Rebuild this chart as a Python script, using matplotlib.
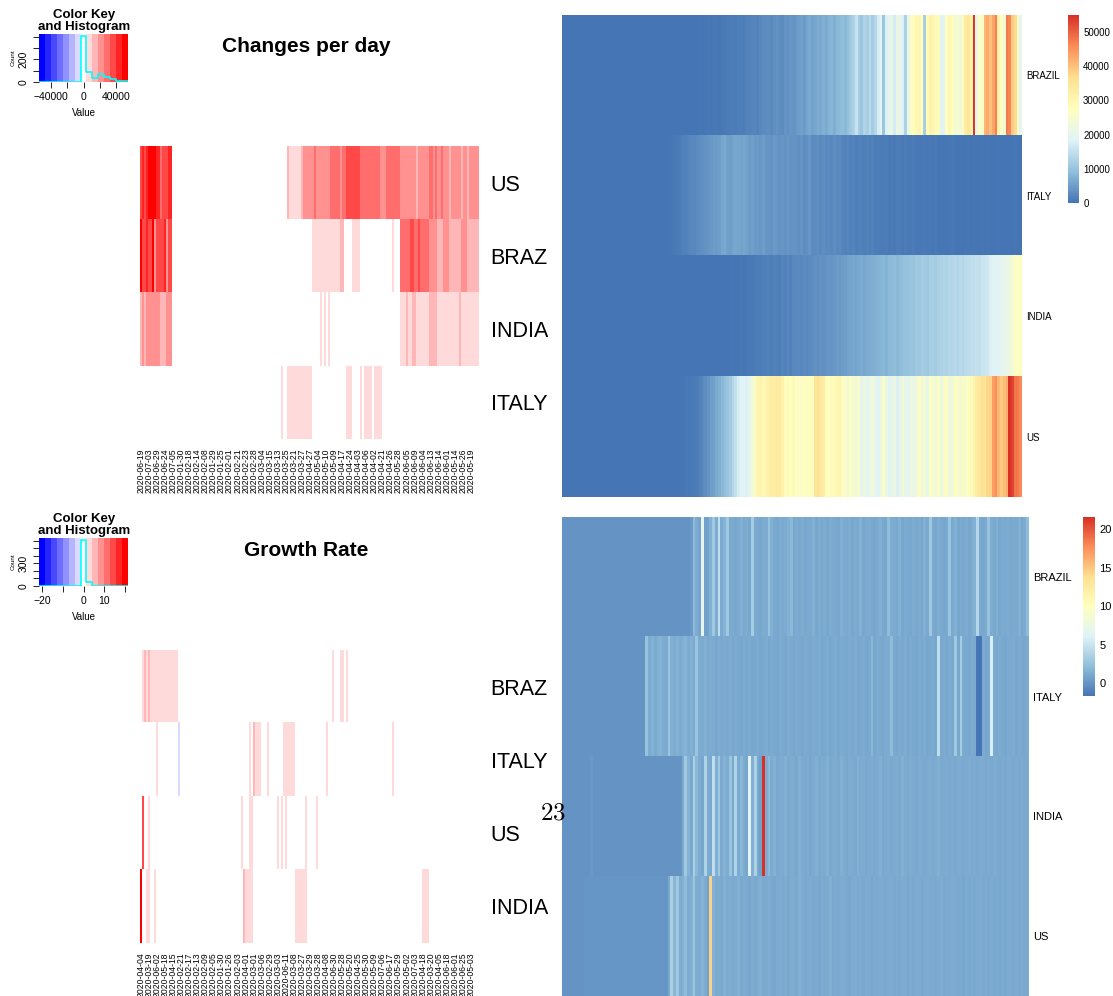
import numpy as np
import matplotlib
matplotlib.use('Agg')
import matplotlib.pyplot as plt
from matplotlib.colors import ListedColormap, BoundaryNorm, LinearSegmentedColormap

plt.rcParams['font.family'] = ['Liberation Sans', 'DejaVu Sans']
plt.rcParams['mathtext.fontset'] = 'cm'

W, H = 1113, 996
N_DAYS = 168  # 2020-01-22 .. 2020-07-07

# ---------------- right panels (pheatmap), daily values in date order ----------------
right_rows = ['BRAZIL', 'ITALY', 'INDIA', 'US']

# new cases per day, thousands
brazil_changes_k = [0] * 33 + [
    0, 0, 0, 0, 0, 0, 0, 0, 0, 0.01, 0.02, 0.03, 0.05,
    0.1, 0.2, 0.1, 0.2, 0.3, 0.2, 0.4, 0.5, 0.3, 0.5, 0.6, 0.4, 0.5, 0.8,
    1.0, 1.1, 1.2, 0.9, 1.3, 1.5, 1.2, 1.8, 1.9,
    2.0, 2.2, 1.8, 2.5, 3.0, 2.8, 3.1, 2.6, 3.4, 3.8, 3.3, 2.9, 4.0, 3.6, 4.2, 3.9,
    4.5, 5.0, 5.5, 4.8, 6.0, 6.5, 5.8, 6.2, 7.0, 6.6, 7.5, 6.8, 7.8, 8.0, 7.2, 8.5, 8.8, 9.2, 8.4, 9.6,
    11.0, 12.5, 15.5, 11.8, 10.5, 13.0, 12.0, 14.0, 11.5, 13.5,
    17.5, 19.0, 10.5, 18.0, 20.0, 21.0, 17.0, 22.0, 19.5, 18.0, 12.5, 21.5,
    26.5, 28.0, 29.5, 30.0, 27.5, 12.0, 29.0, 31.0, 30.5, 28.5,
    29.0, 19.0, 18.5, 27.0, 30.0, 28.0, 24.0, 24.5, 23.0, 28.0, 33.0, 34.5, 32.0,
    54.0, 21.0, 27.0, 25.0, 41.0, 42.5, 40.0, 43.0, 47.0,
    31.0, 27.0, 24.0, 47.5, 46.5, 39.0, 37.0, 25.0, 20.0]
italy_changes_k = [0] * 38 + [
    0.2, 0.4, 0.6, 0.8, 1.0, 1.2, 1.6, 1.9, 2.2, 2.5, 2.4, 3.0, 3.3, 3.5, 3.8,
    4.2, 4.6, 5.0, 4.8, 5.2, 6.2, 6.5, 5.5, 5.0, 6.0, 6.3, 5.9, 5.6, 6.1, 5.8,
    4.8, 5.2, 4.6, 4.9, 4.3, 5.1,
    4.5, 4.2, 3.9, 4.6, 4.3, 4.0, 4.1, 3.8, 4.4, 3.7, 4.0,
    3.9, 3.5, 4.0, 3.2, 3.6, 4.2,
    3.0, 2.8, 3.3, 2.6, 3.1, 2.7, 2.9, 2.5, 3.2, 2.4, 2.8,
    2.0, 1.8, 2.2, 1.6, 2.0, 1.5, 1.9, 1.7, 1.4, 1.8, 1.3, 1.6, 1.2,
    1.1, 0.9, 1.0, 1.2, 0.8, 1.0, 0.7, 1.1, 0.9, 0.6, 1.0, 0.8, 0.7, 0.9, 0.6,
    0.5, 0.8, 0.7, 0.5, 0.6, 0.4, 0.7,
    0.3, 0.4, 0.3, 0.2, 0.3, 0.5, 0.3, 0.2, 0.3, 0.2, 0.4, 0.3, 0.2, 0.3, 0.2,
    0.2, 0.3, 0.2, 0.3, 0.2, 0.1, 0.2, 0.3, 0.2, 0.2, 0.1, 0.2, 0.2, 0.3, 0.2, 0.2]
india_changes_k = [0] * 56 + [
    0.05, 0.1, 0.05, 0.1, 0.2, 0.1, 0.3, 0.2, 0.4, 0.5, 0.4, 0.6, 0.7, 0.8,
    1.0, 1.2, 1.1, 1.5, 1.3, 1.6, 1.4, 1.8, 1.7, 1.5, 2.0, 1.9, 2.2, 1.8, 2.4,
    2.5, 2.7, 2.4, 2.8, 2.6,
    3.0, 3.2, 3.5, 3.3, 3.8, 3.6, 4.0, 4.2, 3.9, 4.5, 4.8, 4.6, 5.0, 5.3,
    5.8, 6.0, 6.3, 5.9, 6.5, 6.8, 6.4, 7.0, 6.9, 7.2, 7.4,
    7.8, 8.0, 8.4, 7.9, 8.6, 8.8, 9.0, 8.5, 9.2, 9.5, 9.8,
    10.0, 10.5, 10.2, 11.0, 10.8, 11.5, 11.2, 10.9, 11.8, 12.0, 11.6, 12.3, 12.5,
    13.0, 12.8, 13.4, 13.2, 13.6, 13.1, 13.8, 13.5, 14.0,
    14.2, 14.8, 14.5, 15.2, 15.0, 15.8, 16.0, 16.5,
    18.0, 18.5, 19.0, 18.8, 19.8, 20.5, 21.0, 22.0,
    24.5, 26.0, 27.0, 28.0]
us_changes_k = [0] * 37 + [
    0.01, 0.02, 0.03, 0.05, 0.1, 0.2, 0.3, 0.4, 0.5, 0.6, 0.8, 1.0,
    1.2, 1.8, 2.5, 3.2, 4.0, 5.0, 5.5, 6.5, 7.5, 8.5, 9.5, 10.5, 11.5, 13.5, 15.0,
    17.5, 18.5, 19.0, 18.0, 19.5, 24.5, 25.5, 30.0, 31.0, 29.5, 30.5,
    32.0, 33.0, 32.5, 34.0, 33.5, 31.5, 28.0, 28.5, 27.5, 29.0, 27.0, 26.5,
    26.0, 27.5, 26.5, 28.0, 27.0, 35.0, 36.0, 34.0, 33.0,
    28.0, 27.0, 29.0, 28.5, 30.0, 31.0, 27.0, 25.5, 24.0, 26.5, 25.0, 23.5, 26.0,
    20.0, 22.0, 19.5, 21.0, 23.0, 20.5, 18.5, 22.5, 26.0, 21.5,
    19.0, 20.0, 22.0, 18.0, 21.0, 23.5, 20.5, 19.5, 22.5, 21.0,
    24.0, 26.0, 22.5, 25.0, 20.0, 27.0, 24.5, 23.0, 26.5, 21.5, 25.5,
    28.0, 22.0, 24.0, 27.5, 26.0, 23.5, 28.5, 25.0, 27.0, 29.0, 30.0,
    33.0, 34.5, 36.0, 35.0, 37.5, 38.0, 44.0, 45.5, 41.0, 39.0, 40.5, 42.0,
    55.0, 53.0, 48.0, 47.5, 46.0]

# growth rate (today / yesterday), 0 before the outbreak
brazil_growth = [0] * 46 + [
    0.3, 2.1, 1.2, 0.8, 7.0, 0.6, 0.7, 1.5, 3.0, 1.3,
    4.5, 1.2, 1.6, 3.0, 1.1, 1.3, 1.0, 1.2, 1.4, 1.1,
    1.3, 1.0, 3.3, 1.2, 1.1, 1.0, 1.3, 1.2, 2.5, 1.5,
    1.1, 1.0, 1.3, 1.1, 1.2, 1.4, 1.9, 1.0, 1.2, 1.1,
    1.3, 1.0, 1.2, 1.1, 1.4, 1.0, 1.3, 1.1, 1.2, 1.0,
    1.3, 1.2, 1.1, 1.0, 1.4, 1.2, 1.1, 1.3, 1.0, 1.2,
    1.1, 1.5, 1.0, 1.2, 1.3, 1.1, 1.0, 1.2, 1.4, 1.1,
    1.0, 2.2, 1.3, 1.2, 1.1, 1.5, 1.0, 1.2, 1.1, 1.0,
    1.3, 1.1, 1.2, 1.0, 1.4, 1.1, 3.0, 1.2, 1.0, 1.3,
    1.1, 1.0, 1.2, 2.7, 1.1, 1.4, 1.0, 1.2, 1.1, 1.3,
    1.0, 1.2, 1.5, 4.0, 1.1, 1.0, 1.2, 2.5, 1.3, 1.1,
    1.4, 1.0, 1.2, 1.1, 1.3, 1.0, 1.2, 1.1, 1.4, 1.0,
    1.2, 2.1]
italy_growth = [0] * 30 + [
    2.5, 1.3, 1.5, 1.2, 1.4, 1.6, 1.3, 1.2, 2.7, 1.4,
    1.3, 1.5, 1.2, 1.4, 1.6, 1.3, 1.5, 1.2, 2.7, 1.3,
    1.2, 1.4, 1.1, 1.3, 1.2, 1.0, 1.3, 1.1, 1.2, 1.1,
    1.3, 1.0, 1.2, 1.1, 1.0, 1.2, 1.1, 1.3, 1.0, 1.1,
    1.2, 1.0, 1.1, 1.3, 1.0, 1.2, 1.1, 1.0, 1.2, 1.1,
    1.0, 1.3, 1.1, 1.0, 1.2, 1.1, 1.0, 1.2, 1.1, 1.0,
    1.2, 1.1, 1.3, 1.0, 1.1, 1.2, 1.0, 1.1, 1.3, 1.0,
    1.2, 1.1, 1.0, 1.2, 1.1, 1.3, 1.0, 1.1, 1.2, 1.0,
    1.1, 1.9, 1.0, 1.2, 1.1, 1.0, 1.2, 1.3, 2.1, 1.1,
    1.0, 1.2, 1.1, 1.3, 1.0, 1.2, 1.1, 1.0, 1.2, 1.1,
    1.3, 1.0, 1.1, 1.2, 1.0, 4.5, 1.1, 1.2, 1.0, 1.3,
    1.1, 3.0, 1.0, 3.3, 1.2, 1.1, 1.0, 1.3, 1.1, -1.6,
    -1.7, 1.2, 1.0, 1.1, 5.8, 1.2, 1.0, 1.3, 1.1, 1.0,
    1.2, 1.1, 1.3, 1.0, 1.2, 1.1, 1.0, 1.2]
india_growth = [0] * 10 + [0.3] + [0] * 32 + [
    1.2, 3.0, 1.6, 1.1, 3.5, 1.9, 1.2, 1.0, 3.7, 1.3,
    1.1, 4.5, 1.4, 3.0, 1.2, 1.6, 1.3, 2.6, 1.1, 3.8,
    1.2, 1.9, 1.3, 1.0, 6.5, 1.4, 3.6, 1.1, 0.6, 21.6,
    1.3, 2.0, 1.2, 1.5, 1.1, 1.3, 1.2, 1.4, 1.1, 1.3,
    1.2, 1.0, 1.4, 1.2, 1.1, 1.3, 1.0, 1.2, 1.4, 1.1,
    1.3, 1.2, 1.5, 1.1, 1.2, 1.3, 1.1, 1.4, 1.2, 1.0,
    1.3, 1.2, 1.1, 1.4, 1.2, 1.3, 1.1, 1.2, 1.3, 1.1,
    1.2, 1.4, 1.0, 1.2, 1.3, 1.1, 1.2, 1.3, 1.1, 1.4,
    1.2, 1.1, 1.3, 1.2, 1.1, 1.3, 1.2, 1.1, 1.2, 1.3,
    1.1, 1.2, 1.4, 1.1, 1.2, 1.3, 1.1, 1.2, 1.1, 1.3,
    1.2, 1.1, 1.2, 1.3, 1.1, 1.2, 1.1, 1.3, 1.2, 1.1,
    1.2, 1.1, 1.3, 1.2, 1.1, 1.2, 1.1, 1.3, 1.2, 1.1,
    1.2, 1.1, 1.2, 1.1, 1.2]
us_growth = [0] * 8 + [0.1] * 30 + [
    1.1, 3.5, 1.8, 3.0, 1.3, 1.5, 2.2, 1.2, 1.4, 2.8,
    1.3, 1.2, 1.6, 1.3, 0.6, 14.5, 1.4, 1.2, 1.3, 1.1,
    1.4, 1.2, 1.3, 1.1, 1.2, 1.4, 1.1, 1.3, 1.2, 1.0,
    1.3, 1.1, 1.2, 1.4, 1.1, 1.2, 1.3, 1.1, 1.0, 1.2,
    1.3, 1.1, 1.2, 1.0, 1.3, 1.2, 1.1, 1.4, 1.2, 1.1,
    1.2, 1.3, 1.1, 1.2, 1.0, 1.3, 1.1, 1.2, 1.4, 1.1,
    1.2, 1.1, 1.3, 1.2, 1.1, 1.0, 1.2, 1.3, 1.1, 1.2,
    1.1, 1.3, 1.2, 1.0, 1.2, 1.1, 1.3, 1.2, 1.1, 1.2,
    1.3, 1.1, 1.2, 1.1, 1.3, 1.2, 1.0, 1.2, 1.1, 1.3,
    1.2, 1.1, 1.2, 1.3, 1.1, 1.2, 1.1, 1.2, 1.3, 1.1,
    1.2, 1.1, 1.3, 1.2, 1.1, 1.2, 1.0, 1.2, 1.1, 1.2,
    1.1, 1.2, 1.3, 1.1, 1.2, 1.1, 1.2, 1.1, 1.2, 1.1,
    1.2, 1.1, 1.3, 1.2, 1.1, 1.2, 1.1, 1.2, 1.1, 1.2]

# ---------------- left panels (heatmap.2, clustered columns) ----------------
# colour-key bin per column, as (bin, number of columns); bins 0..14, 7 = white
top_left_rows = ['US', 'BRAZIL', 'INDIA', 'ITALY']
us_change_bins = [(12, 1), (13, 1), (12, 1), (13, 1), (14, 4), (13, 2), (11, 1), (12, 3), (13, 2),
                  (7, 57), (9, 1), (8, 6), (9, 1), (10, 5), (11, 1), (10, 7), (11, 5), (10, 1),
                  (11, 2), (12, 7), (11, 10), (10, 3), (11, 7), (10, 8), (9, 1), (10, 5), (11, 2),
                  (10, 1), (11, 1), (10, 2), (11, 1), (10, 3), (9, 1), (10, 5), (9, 1), (10, 2),
                  (9, 1), (10, 5)]
brazil_change_bins = [(14, 1), (12, 2), (13, 1), (12, 2), (14, 1), (10, 1), (12, 4), (13, 1), (10, 1),
                      (12, 2), (7, 69), (8, 14), (9, 2), (7, 4), (8, 4), (7, 16), (8, 1), (7, 3),
                      (11, 5), (12, 2), (11, 2), (12, 1), (11, 4), (10, 4), (9, 3), (10, 3), (9, 6),
                      (10, 3), (9, 6)]
india_change_bins = [(9, 1), (10, 1), (9, 1), (10, 7), (9, 3), (10, 3), (7, 73), (8, 1), (7, 1),
                     (8, 1), (7, 1), (8, 1), (7, 35), (8, 3), (9, 1), (8, 2), (9, 2), (8, 6),
                     (9, 4), (8, 11), (9, 1), (8, 9)]
italy_change_bins = [(7, 70), (8, 1), (7, 2), (8, 12), (7, 17), (8, 3), (7, 4), (8, 1), (7, 1),
                     (8, 4), (7, 1), (8, 4), (7, 48)]
top_left_dates = ['2020-06-19', '2020-07-03', '2020-06-29', '2020-06-24', '2020-07-05', '2020-01-30',
                  '2020-02-18', '2020-02-14', '2020-02-08', '2020-01-29', '2020-01-25', '2020-02-01',
                  '2020-02-21', '2020-02-23', '2020-02-28', '2020-03-04', '2020-03-15', '2020-03-13',
                  '2020-03-25', '2020-03-21', '2020-03-27', '2020-04-27', '2020-05-04', '2020-05-10',
                  '2020-05-09', '2020-04-17', '2020-04-24', '2020-04-03', '2020-04-06', '2020-04-02',
                  '2020-04-21', '2020-04-26', '2020-05-28', '2020-06-05', '2020-06-09', '2020-06-04',
                  '2020-06-13', '2020-06-14', '2020-06-01', '2020-05-14', '2020-05-26', '2020-05-19']

bottom_left_rows = ['BRAZIL', 'ITALY', 'US', 'INDIA']
brazil_growth_bins = [(7, 1), (8, 1), (9, 1), (8, 1), (9, 1), (8, 14), (7, 76), (8, 1), (7, 3),
                      (8, 2), (7, 1), (8, 1), (7, 65)]
italy_growth_bins = [(7, 8), (8, 1), (7, 10), (6, 1), (7, 34), (8, 1), (7, 1), (9, 1), (8, 3), (7, 3),
                     (8, 1), (7, 7), (8, 6), (7, 15), (8, 1), (7, 32), (8, 1), (7, 42)]
us_growth_bins = [(7, 1), (12, 1), (7, 2), (8, 1), (7, 45), (8, 1), (7, 3), (8, 2), (7, 12), (8, 1),
                  (7, 1), (8, 1), (7, 1), (8, 1), (7, 9), (8, 1), (7, 4), (8, 1), (7, 80)]
india_growth_bins = [(14, 1), (7, 2), (8, 2), (7, 2), (8, 1), (7, 43), (9, 1), (8, 4), (7, 21),
                     (8, 6), (7, 57), (8, 3), (7, 25)]
bottom_left_dates = ['2020-04-04', '2020-03-19', '2020-06-02', '2020-05-18', '2020-04-15', '2020-02-21',
                     '2020-02-17', '2020-02-13', '2020-02-09', '2020-02-05', '2020-01-30', '2020-01-26',
                     '2020-02-03', '2020-04-01', '2020-03-01', '2020-03-06', '2020-02-29', '2020-03-03',
                     '2020-06-11', '2020-03-08', '2020-03-27', '2020-03-29', '2020-03-28', '2020-04-08',
                     '2020-06-30', '2020-05-28', '2020-05-20', '2020-04-25', '2020-05-30', '2020-05-09',
                     '2020-07-06', '2020-06-17', '2020-05-29', '2020-05-02', '2020-07-03', '2020-04-18',
                     '2020-03-20', '2020-04-05', '2020-06-18', '2020-06-01', '2020-06-25', '2020-05-03']

change_key_max = 55000
growth_key_max = 21.6


def box(x0, y0, x1, y1):
    return [x0 / W, 1 - y1 / H, (x1 - x0) / W, (y1 - y0) / H]


def expand(runs):
    return np.repeat([b for b, n in runs], [n for b, n in runs])


def hide_spines(ax):
    for s in ax.spines.values():
        s.set_visible(False)


# bluered(15) like gplots
blue_red = []
for i in range(15):
    if i < 7:
        blue_red.append((i / 7, i / 7, 1.0))
    elif i == 7:
        blue_red.append((1.0, 1.0, 1.0))
    else:
        blue_red.append((1.0, (14 - i) / 7, (14 - i) / 7))
blue_red = ListedColormap(blue_red)

rdylbu = LinearSegmentedColormap.from_list(
    'rdylbu', ['#4575B4', '#91BFDB', '#E0F3F8', '#FFFFBF', '#FEE090', '#FC8D59', '#D73027'])

fig = plt.figure(figsize=(W / 100, H / 100), dpi=100)


def left_panel(y_off, bin_rows, names, dates, kmax, title, xt, xtl, yt_shown):
    breaks = np.linspace(-kmax, kmax, 16)
    mids = (breaks[:-1] + breaks[1:]) / 2
    levels = np.array([expand(r) for r in bin_rows])
    vals = mids[levels]

    # colour key + histogram
    kax = fig.add_axes(box(39, y_off + 34, 128, y_off + 82))
    kax.imshow(mids[None, :], cmap=blue_red, norm=BoundaryNorm(breaks, 15), aspect='auto',
               extent=[-kmax, kmax, 0, 1], interpolation='nearest')
    counts = np.bincount(levels.ravel(), minlength=15)
    hy = np.append(counts, counts[-1]) / counts.max() * 0.95
    kax.step(breaks, hy, where='post', color='cyan', lw=1.2)
    kax.set_xlim(-kmax, kmax)
    kax.set_ylim(0, 1)
    kax.set_xticks(xt)
    kax.set_xticklabels(xtl, fontsize=7.5)
    yt = np.arange(0, counts.max() + 1, 100)
    kax.set_yticks(yt / counts.max() * 0.95)
    kax.set_yticklabels([str(v) if v in yt_shown else '' for v in yt], fontsize=7.5,
                        rotation=90, va='center')
    kax.tick_params(length=4.5, width=0.6, pad=3)
    hide_spines(kax)
    kax.set_xlabel('Value', fontsize=7, labelpad=4)
    kax.set_ylabel('Count', fontsize=4.5, labelpad=2)
    fig.text(84 / W, 1 - (y_off + 21) / H, 'Color Key\nand Histogram', ha='center', va='center',
             fontsize=9.5, fontweight='bold', linespacing=1.0)
    fig.text(306 / W, 1 - (y_off + 46) / H, title, ha='center', va='center',
             fontsize=15, fontweight='bold')

    # heatmap
    ax = fig.add_axes(box(140, y_off + 146, 478, y_off + 439))
    ax.imshow(vals, cmap=blue_red, norm=BoundaryNorm(breaks, 15), aspect='auto',
              interpolation='nearest')
    ax.set_xticks(np.arange(0, N_DAYS, 4)[:len(dates)])
    ax.set_xticklabels(dates, rotation=90, fontsize=6.2)
    ax.yaxis.tick_right()
    ax.set_yticks(range(len(names)))
    ax.set_yticklabels(names, fontsize=15.5)
    ax.tick_params(axis='x', length=0, pad=7)
    ax.tick_params(axis='y', length=0, pad=9)
    hide_spines(ax)


left_panel(0, [us_change_bins, brazil_change_bins, india_change_bins, italy_change_bins],
           top_left_rows, top_left_dates, change_key_max, 'Changes per day',
           [-40000, -20000, 0, 20000, 40000], ['\u221240000', '', '0', '', '40000'], [0, 200])
left_panel(504, [brazil_growth_bins, italy_growth_bins, us_growth_bins, india_growth_bins],
           bottom_left_rows, bottom_left_dates, growth_key_max, 'Growth Rate',
           [-20, -10, 0, 10, 20], ['\u221220', '', '0', '10', ''], [0, 300])

# white page behind the right-hand figures (clips the long row labels)
cover = fig.add_axes(box(548, 0, W, H))
cover.set_facecolor('white')
cover.set_xticks([])
cover.set_yticks([])
hide_spines(cover)


def right_panel(hbox, cbox, rows, ticks, label_size):
    data = np.array(rows, dtype=float)
    ax = fig.add_axes(box(*hbox))
    im = ax.imshow(data, cmap=rdylbu, vmin=data.min(), vmax=data.max(), aspect='auto',
                   interpolation='nearest')
    ax.set_xticks([])
    ax.yaxis.tick_right()
    ax.set_yticks(range(len(right_rows)))
    ax.set_yticklabels(right_rows, fontsize=label_size)
    ax.tick_params(axis='y', length=0, pad=3)
    hide_spines(ax)
    cax = fig.add_axes(box(*cbox))
    cb = fig.colorbar(im, cax=cax, ticks=ticks)
    cb.ax.set_yticklabels([str(t) for t in ticks])
    cb.outline.set_visible(False)
    cax.tick_params(length=0, labelsize=label_size, pad=3)


changes = [np.array(r) * 1000 for r in (brazil_changes_k, italy_changes_k, india_changes_k, us_changes_k)]
right_panel((562, 15, 1022, 497), (1068, 15, 1079, 203), changes,
            [0, 10000, 20000, 30000, 40000, 50000], 7)
right_panel((562, 517, 1029, 996), (1083, 517, 1095, 696),
            [brazil_growth, italy_growth, india_growth, us_growth], [0, 5, 10, 15, 20], 8)

fig.text(553 / W, 1 - 812 / H, r'$23$', ha='center', va='center', fontsize=18)

fig.savefig('out.png', dpi=100)
